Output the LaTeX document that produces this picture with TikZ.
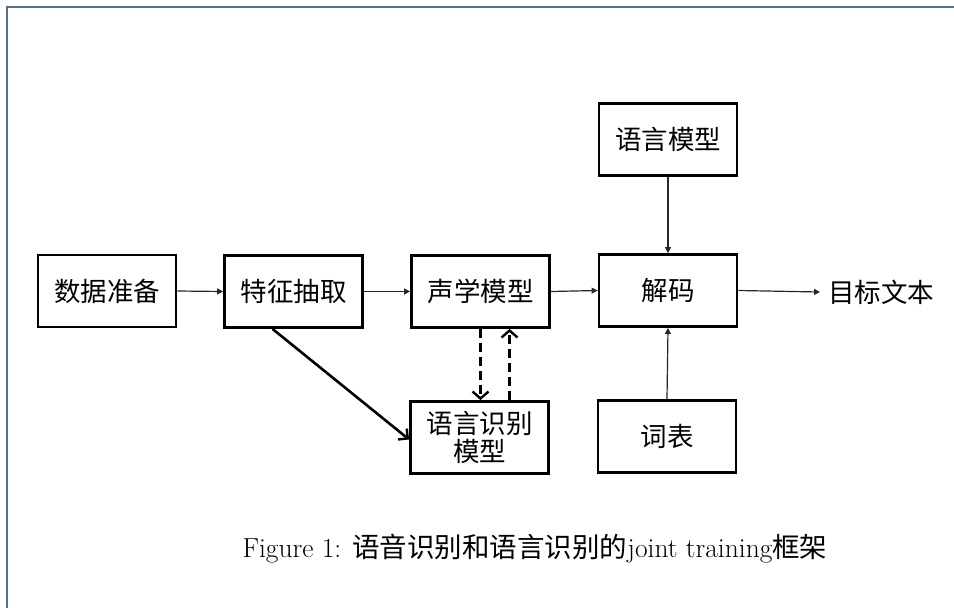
\documentclass[tikz,border=0pt]{standalone}
\usepackage{fontspec}
\newfontfamily\cjk{Noto Sans CJK SC}
\usetikzlibrary{arrows.meta,calc}
\definecolor{framecol}{RGB}{84,112,142}
\begin{document}
\begin{tikzpicture}[x=1pt,y=-1pt,
  box/.style={draw, line width=2.8pt, inner sep=0pt, minimum width=138pt, minimum height=72pt,
              align=center, font=\cjk\fontsize{26.5}{28}\selectfont},
  thin/.style={draw=black!85, line width=1.2pt, -{Triangle[length=6pt,width=6pt]}},
  thick/.style={draw, line width=2.6pt, -{Straight Barb[length=7pt,width=14pt,line width=2.4pt]}},
  dsh/.style={draw, line width=2.6pt, dash pattern=on 9pt off 5pt, -{Straight Barb[length=7pt,width=16pt,line width=2.4pt]}}]
\useasboundingbox (0,0) rectangle (954,608);
\draw[framecol, line width=2pt] (7,608) -- (7,7) -- (954,7);

\node[box] (dp)    at (107,291)     {数据准备};
\node[box] (fe)    at (293.5,291.5) {特征抽取};
\node[box] (am)    at (480.5,291.5) {声学模型};
\node[box] (lid)   at (479.5,437.5) {语言识别\\模型};
\node[box] (lm)    at (668,139.5)   {语言模型};
\node[box] (dec)   at (668,290.5)   {解码};
\node[box] (voc)   at (667,436.5)   {词表};
\node[inner sep=0pt, font=\cjk\fontsize{26.5}{28}\selectfont, anchor=west] (out) at (828,292) {目标文本};

\draw[thin] (dp.east) -- (fe.west);
\draw[thin] (fe.east) -- (am.west);
\draw[thin] (am.east) -- (dec.west);
\draw[thin] (dec.east) -- ([xshift=-8pt]out.west);
\draw[thin] (lm.south) -- (dec.north);
\draw[thin] (voc.north) -- (dec.south);

\draw[thick] ([xshift=-21pt]fe.south) -- ([yshift=-2pt]lid.west);
\draw[dsh] (am.south) -- (am.south |- lid.north);
\draw[dsh] ([xshift=30pt]lid.north) -- ([xshift=30pt]lid.north |- am.south);

\node[font=\fontsize{27.5}{30}\selectfont, inner sep=0pt] (cap) at (535,549)
  {Figure 1: {\cjk 语音识别和语言识别的}joint training{\cjk 框架}};
\end{tikzpicture}
\end{document}
